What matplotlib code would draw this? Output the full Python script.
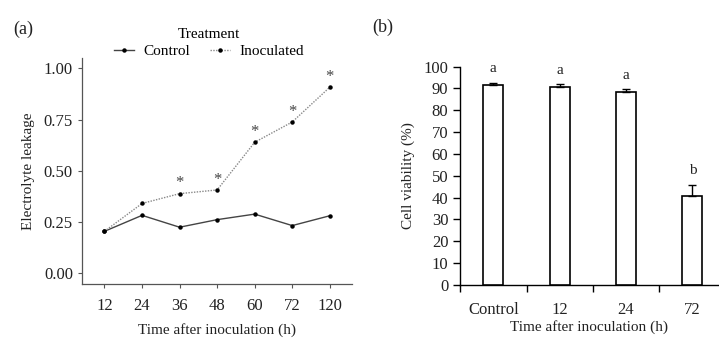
import matplotlib
matplotlib.use("Agg")
import matplotlib.pyplot as plt
import numpy as np

plt.rcParams['font.family'] = ['Liberation Serif', 'DejaVu Serif']

# Panel (a) data
times_a = ["12", "24", "36", "48", "60", "72", "120"]
control_a = [0.204, 0.282, 0.224, 0.261, 0.288, 0.232, 0.280]
inoculated_a = [0.204, 0.340, 0.388, 0.406, 0.639, 0.738, 0.908]
signif_a = [False, False, True, True, True, True, True]

# Panel (b) data
cats_b = ["Control", "12", "24", "72"]
viab_b = [91.7, 90.5, 88.2, 40.8]
err_b = [1.0, 1.4, 1.4, 5.0]
letters_b = ["a", "a", "a", "b"]

fig = plt.figure(figsize=(7.19, 3.38), dpi=100)
fs = 11
tfs = 12
spine_col = "#555555"

# ---------- Panel (a) ----------
ax = fig.add_axes([0.114, 0.160, 0.376, 0.668])
x = np.arange(len(times_a))
ax.plot(x, control_a, color="#444444", lw=1.0, marker="o", ms=2.2,
        mfc="black", mec="black", label="Control")
ax.plot(x, inoculated_a, color="#888888", lw=1.0, ls=(0, (1, 1)), marker="o",
        ms=2.2, mfc="black", mec="black", label="Inoculated")
for xi, v, s in zip(x, inoculated_a, signif_a):
    if s:
        ax.text(xi, v + 0.012, "*", ha="center", va="bottom", fontsize=12,
                color="#444444")
ax.set_xlim(-0.6, 6.6)
ax.set_ylim(-0.053, 1.05)
ax.set_xticks(x)
ax.set_xticklabels(times_a)
ax.set_yticks([0, 0.25, 0.5, 0.75, 1.0])
ax.set_yticklabels(["0.00", "0.25", "0.50", "0.75", "1.00"])
for sp in ["top", "right"]:
    ax.spines[sp].set_visible(False)
for sp in ["left", "bottom"]:
    ax.spines[sp].set_color(spine_col)
    ax.spines[sp].set_linewidth(0.9)
ax.tick_params(axis="both", colors=spine_col, labelcolor="#222222",
               labelsize=tfs, length=3, width=0.8)
ax.tick_params(axis="x", pad=7)
ax.set_xlabel("Time after inoculation (h)", fontsize=fs, labelpad=7, color="#222222")
ax.set_ylabel("Electrolyte leakage", fontsize=fs, labelpad=6, color="#222222")
leg = ax.legend(title="Treatment", ncol=2, frameon=False, fontsize=fs,
                title_fontsize=fs, loc="lower center",
                bbox_to_anchor=(0.47, 0.96), handlelength=1.3,
                columnspacing=1.3, handletextpad=0.6, borderaxespad=0.2,
                labelspacing=0.2)

fig.text(0.018, 0.90, "(a)", fontsize=13, color="#222222")

# ---------- Panel (b) ----------
bx = fig.add_axes([0.640, 0.157, 0.359, 0.646])
xb = np.arange(len(cats_b))
bx.bar(xb, viab_b, width=0.30, color="white", edgecolor="black", lw=1.2,
       yerr=[np.zeros(len(err_b)), err_b],
       error_kw=dict(ecolor="black", elinewidth=1.0, capsize=3, capthick=1.0),
       zorder=3)
for xi, v, e, l in zip(xb, viab_b, err_b, letters_b):
    bx.text(xi, v + e + 3.5, l, ha="center", va="bottom", fontsize=fs,
            color="#222222", clip_on=False)
bx.set_xlim(-0.5, 3.39)
bx.set_ylim(0, 100)
bx.set_yticks(np.arange(0, 101, 10))
bx.set_xticks(xb)
bx.set_xticklabels(cats_b)
bx.set_xticks([-0.5, 0.5, 1.5, 2.5], minor=True)
bx.tick_params(axis="x", which="major", length=0, pad=12)
bx.tick_params(axis="x", which="minor", length=5, width=1.0, direction="out")
bx.tick_params(axis="y", length=5, width=1.0, direction="out")
bx.tick_params(axis="both", labelsize=tfs, labelcolor="#222222")
for sp in ["top", "right"]:
    bx.spines[sp].set_visible(False)
for sp in ["left", "bottom"]:
    bx.spines[sp].set_linewidth(1.0)
bx.set_xlabel("Time after inoculation (h)", fontsize=fs, labelpad=2, color="#222222")
bx.set_ylabel("Cell viability (%)", fontsize=fs, labelpad=6, color="#222222")

fig.text(0.518, 0.905, "(b)", fontsize=13, color="#222222")

fig.savefig("out.png", dpi=100)
